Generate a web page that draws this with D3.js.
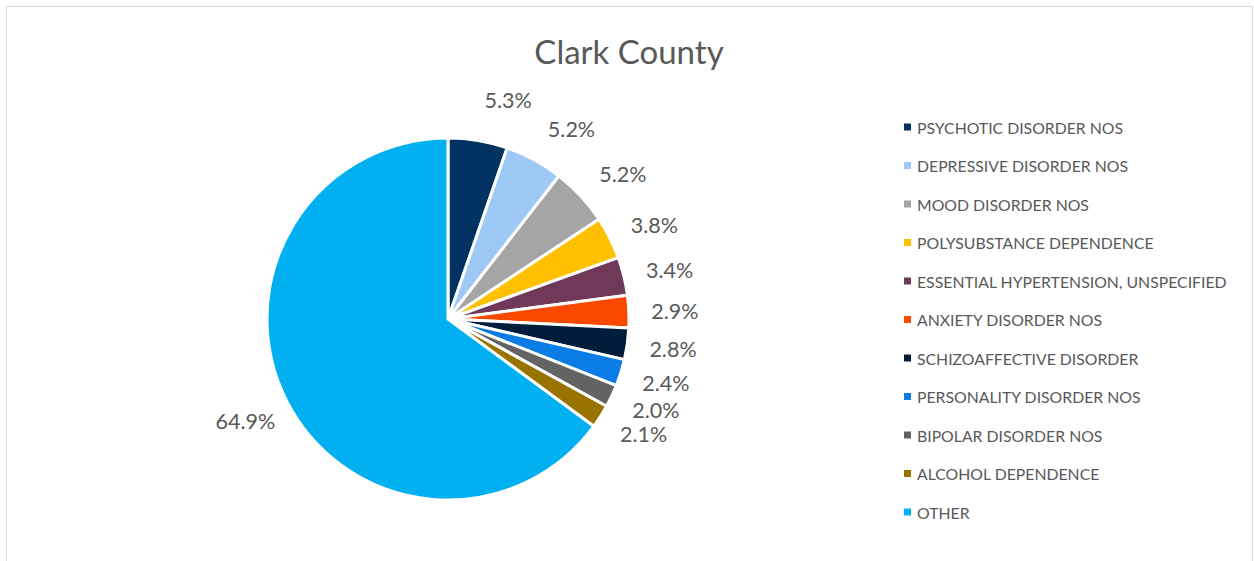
<!DOCTYPE html>
<html><head><meta charset="utf-8">
<script src="https://cdn.jsdelivr.net/npm/d3@7"></script>
<style>
html,body{margin:0;padding:0;background:#fff;}
svg text{font-family:"Lato","Liberation Sans",sans-serif;fill:#595959;}
</style></head>
<body><svg id="c" width="1254" height="561"></svg>
<script>
const categories = ["PSYCHOTIC DISORDER NOS","DEPRESSIVE DISORDER NOS","MOOD DISORDER NOS","POLYSUBSTANCE DEPENDENCE","ESSENTIAL HYPERTENSION, UNSPECIFIED","ANXIETY DISORDER NOS","SCHIZOAFFECTIVE DISORDER","PERSONALITY DISORDER NOS","BIPOLAR DISORDER NOS","ALCOHOL DEPENDENCE","OTHER"];
const values = [5.3,5.2,5.2,3.8,3.4,2.9,2.8,2.4,2.0,2.1,64.9];
const colors = ["#023262","#9ec9f7","#a5a5a5","#ffc000","#70395a","#f94800","#001d3c","#0b7ce6","#636363","#997300","#00b0f0"];
const title = "Clark County";

const svg = d3.select("#c");
svg.append("rect").attr("x",6.5).attr("y",6.5).attr("width",1246).attr("height",600)
  .attr("fill","none").attr("stroke","#d9d9d9").attr("stroke-width",1);

svg.append("text").attr("x",629).attr("y",64).attr("text-anchor","middle")
  .style("font-size","33px").text(title);

const cx = 448, cy = 319, r = 181;
const data = categories.map((c,i)=>({name:c,value:values[i],color:colors[i]}));
const pie = d3.pie().value(d=>d.value).sort(null);
const arcs = pie(data);
const arc = d3.arc().innerRadius(0).outerRadius(r);
const g = svg.append("g").attr("transform",`translate(${cx},${cy})`);
g.selectAll("path").data(arcs).join("path")
  .attr("d",arc).attr("fill",d=>d.data.color)
  .attr("stroke","#fff").attr("stroke-width",3).attr("stroke-linejoin","round");

// outside labels: mid angle, right-hand stack gathered slightly toward horizontal
const labR = r + 46;
const c0 = 93*Math.PI/180, k = 0.93;
arcs.forEach(a=>{
  let m = (a.startAngle+a.endAngle)/2;
  if (m < Math.PI) m = c0 + (m - c0)*k;
  a.lx = Math.sin(m)*labR; a.ly = -Math.cos(m)*labR;
});
g.selectAll("text.lab").data(arcs).join("text").attr("class","lab")
  .attr("x",d=>d.lx).attr("y",d=>d.ly)
  .attr("text-anchor","middle").attr("dominant-baseline","central")
  .style("font-size","21.5px")
  .text(d=>d.data.value.toFixed(1)+"%");

// legend
const ly = d3.scalePoint().domain(categories).range([127,512]);
const lg = svg.append("g");
lg.selectAll("rect").data(data).join("rect")
  .attr("x",904).attr("y",d=>ly(d.name)-3.5).attr("width",7).attr("height",7).attr("fill",d=>d.color);
lg.selectAll("text").data(data).join("text")
  .attr("x",917).attr("y",d=>ly(d.name)).attr("dominant-baseline","central")
  .style("font-size","15.8px").text(d=>d.name);
</script></body></html>
